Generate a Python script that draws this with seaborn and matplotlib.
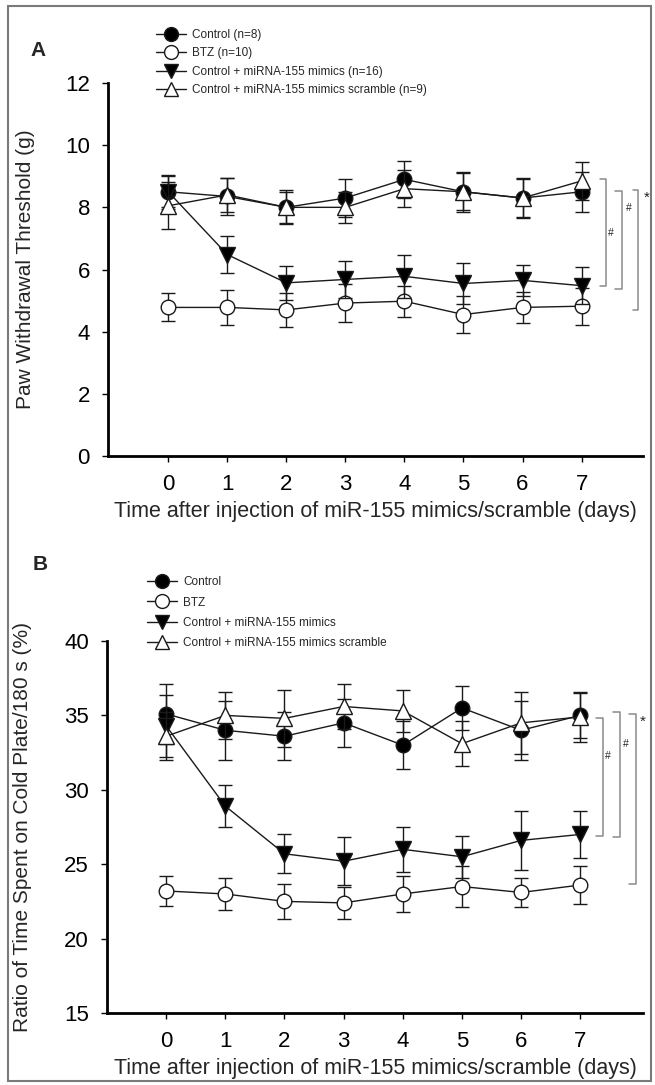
import matplotlib
matplotlib.use("Agg")
import matplotlib.pyplot as plt
from matplotlib.lines import Line2D
from matplotlib.patches import Rectangle
import numpy as np
import pandas as pd
import seaborn as sns

sns.set_theme(style="ticks")
plt.rcParams["font.family"] = ["Liberation Sans", "DejaVu Sans"]

days = [0, 1, 2, 3, 4, 5, 6, 7]
xlabel = "Time after injection of miR-155 mimics/scramble (days)"

# ---- panel A: paw withdrawal threshold (g) ----
a_labels = ["Control (n=8)", "BTZ (n=10)", "Control + miRNA-155 mimics (n=16)",
            "Control + miRNA-155 mimics scramble (n=9)"]
a_control = [8.5, 8.35, 8.0, 8.3, 8.9, 8.5, 8.3, 8.5]
a_control_err = [0.55, 0.6, 0.55, 0.6, 0.6, 0.65, 0.65, 0.65]
a_btz = [4.78, 4.78, 4.7, 4.92, 4.98, 4.55, 4.78, 4.82]
a_btz_err = [0.45, 0.55, 0.55, 0.6, 0.5, 0.6, 0.5, 0.6]
a_mimics = [8.5, 6.48, 5.57, 5.68, 5.78, 5.55, 5.65, 5.48]
a_mimics_err = [0.5, 0.6, 0.55, 0.6, 0.7, 0.65, 0.5, 0.6]
a_scramble = [8.05, 8.4, 8.0, 8.0, 8.6, 8.5, 8.3, 8.85]
a_scramble_err = [0.75, 0.55, 0.5, 0.5, 0.6, 0.6, 0.6, 0.6]

# ---- panel B: ratio of time on cold plate (%) ----
b_labels = ["Control", "BTZ", "Control + miRNA-155 mimics",
            "Control + miRNA-155 mimics scramble"]
b_control = [35.1, 34.0, 33.6, 34.5, 33.0, 35.5, 34.0, 35.0]
b_control_err = [2.0, 2.0, 1.6, 1.6, 1.6, 1.45, 2.0, 1.5]
b_btz = [23.2, 23.0, 22.5, 22.4, 23.0, 23.5, 23.1, 23.6]
b_btz_err = [1.0, 1.1, 1.2, 1.05, 1.2, 1.4, 1.0, 1.3]
b_mimics = [34.3, 28.9, 25.7, 25.2, 26.0, 25.5, 26.6, 27.0]
b_mimics_err = [2.1, 1.4, 1.3, 1.6, 1.5, 1.4, 2.0, 1.6]
b_scramble = [33.6, 35.0, 34.8, 35.6, 35.3, 33.1, 34.5, 34.9]
b_scramble_err = [1.6, 1.6, 1.9, 1.5, 1.4, 1.5, 2.1, 1.7]

# marker styles per group: (marker, facecolor)
styles = [("o", "black"), ("o", "white"), ("v", "black"), ("^", "white")]
INK = "#1a1a1a"


def draw_panel(ax, labels, series, errors):
    for i, (vals, errs) in enumerate(zip(series, errors)):
        marker, fc = styles[i]
        df = pd.DataFrame({"day": days, "value": vals})
        z = 3 + i
        ax.errorbar(days, vals, yerr=errs, fmt="none", ecolor=INK,
                    elinewidth=1.0, capsize=4.8, capthick=1.0, zorder=z)
        sns.lineplot(data=df, x="day", y="value", ax=ax, color=INK, lw=1.0,
                     marker=marker, markersize=10.5 if marker == "o" else 11,
                     markerfacecolor=fc, markeredgecolor=INK,
                     markeredgewidth=1.0, zorder=z + 0.5)
    for side in ["top", "right"]:
        ax.spines[side].set_visible(False)
    for side in ["left", "bottom"]:
        ax.spines[side].set_linewidth(2.0)
        ax.spines[side].set_color("black")
    ax.set_xticks(days)
    ax.tick_params(axis="both", direction="out", length=4, width=1.0,
                   labelsize=16, colors="black")
    ax.tick_params(axis="y", pad=9)
    ax.tick_params(axis="x", pad=9)
    ax.set_xlabel(xlabel, fontsize=15.5, labelpad=4)


def bracket(ax, x, x_tick, y0, y1, mark, mx, my, size):
    ax.plot([x_tick, x, x, x_tick], [y0, y0, y1, y1], color="#8a8a8a",
            lw=1.1, clip_on=False)
    ax.text(mx, my, mark, fontsize=size, ha="center", va="center",
            color="#222222", clip_on=False)


def legend(fig, labels, x, y, spacing):
    handles = []
    for (marker, fc) in styles:
        handles.append(Line2D([0], [0], color=INK, lw=1.0, marker=marker,
                              markersize=10, markerfacecolor=fc,
                              markeredgecolor=INK, markeredgewidth=1.0))
    fig.legend(handles, labels, loc="upper left", bbox_to_anchor=(x, y),
               frameon=False, fontsize=8.5, handlelength=2.5, handletextpad=0.55,
               labelspacing=spacing, borderpad=0, borderaxespad=0)


fig = plt.figure(figsize=(6.55, 10.85), dpi=100)
W, H = 655.0, 1085.0

ax_a = fig.add_axes([108 / W, 1 - 456 / H, 535 / W, 373 / H])
draw_panel(ax_a, a_labels, [a_control, a_btz, a_mimics, a_scramble],
           [a_control_err, a_btz_err, a_mimics_err, a_scramble_err])
ax_a.set_xlim(-1.02, 8.04)
ax_a.set_ylim(0, 12)
ax_a.set_yticks([0, 2, 4, 6, 8, 10, 12])
ax_a.set_ylabel("Paw Withdrawal Threshold (g)", fontsize=15)
ax_a.yaxis.set_label_coords(-0.136, 0.5)
bracket(ax_a, 7.41, 7.31, 8.9, 5.46, "#", 7.50, 7.16, 7.5)
bracket(ax_a, 7.69, 7.57, 8.53, 5.38, "#", 7.80, 7.99, 7.5)
bracket(ax_a, 7.96, 7.87, 8.56, 4.71, "*", 8.11, 8.31, 11)

ax_b = fig.add_axes([107 / W, 1 - 1013 / H, 536 / W, 372 / H])
draw_panel(ax_b, b_labels, [b_control, b_btz, b_mimics, b_scramble],
           [b_control_err, b_btz_err, b_mimics_err, b_scramble_err])
ax_b.set_xlim(-1.0, 8.06)
ax_b.set_ylim(15, 40)
ax_b.set_yticks([15, 20, 25, 30, 35, 40])
ax_b.set_ylabel("Ratio of Time Spent on Cold Plate/180 s (%)", fontsize=15)
ax_b.yaxis.set_label_coords(-0.14, 0.5)
bracket(ax_b, 7.39, 7.27, 34.85, 26.9, "#", 7.47, 32.3, 7.5)
bracket(ax_b, 7.67, 7.56, 35.25, 26.8, "#", 7.77, 33.1, 7.5)
bracket(ax_b, 7.94, 7.83, 35.07, 23.65, "*", 8.05, 34.6, 11)

legend(fig, a_labels, 156 / W, 1 - 29 / H, 0.55)
legend(fig, b_labels, 147 / W, 1 - 576 / H, 0.72)

fig.text(38 / W, 1 - 50 / H, "A", fontsize=15, fontweight="bold",
         ha="center", va="center")
fig.text(40 / W, 1 - 565 / H, "B", fontsize=15, fontweight="bold",
         ha="center", va="center")

# outer frame of the figure panel
fig.patches.append(Rectangle((8 / W, 4 / H), 643 / W, 1075 / H,
                             transform=fig.transFigure, fill=False,
                             edgecolor="#7a7a7a", lw=1.5))

fig.savefig("out.png", dpi=100)
